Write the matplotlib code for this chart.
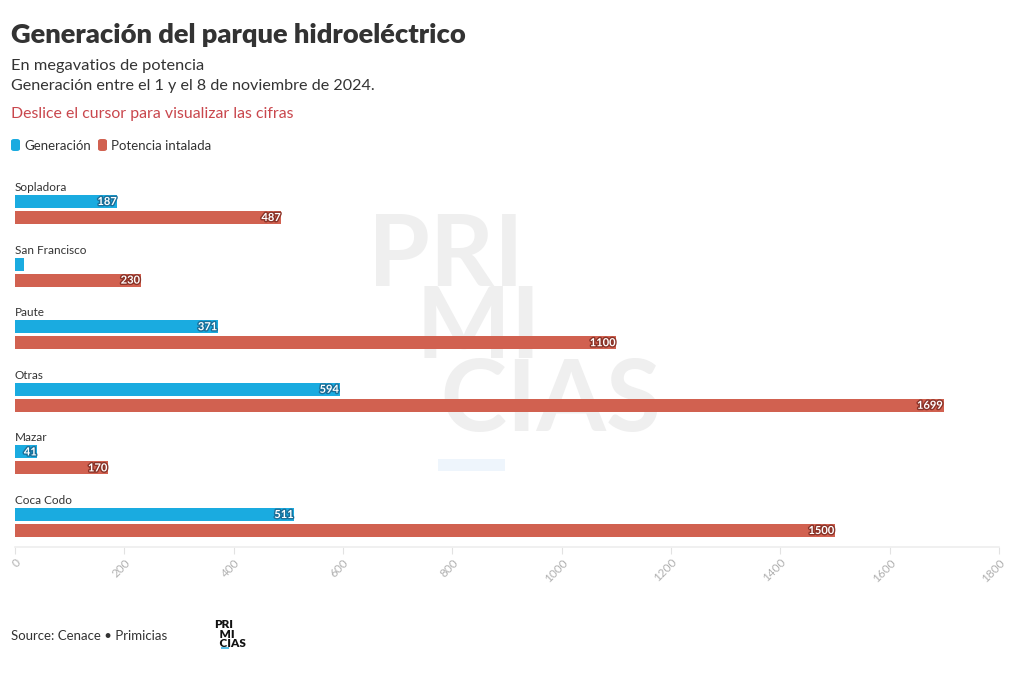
import matplotlib
matplotlib.use("Agg")
import matplotlib.pyplot as plt
import matplotlib.patheffects as pe
from matplotlib.patches import FancyBboxPatch, Rectangle
import numpy as np

categories = ["Sopladora", "San Francisco", "Paute", "Otras", "Mazar", "Coca Codo"]
generacion = [187, 17, 371, 594, 41, 511]
potencia = [487, 230, 1100, 1699, 170, 1500]
gen_labels = ["187", "", "371", "594", "41", "511"]
pot_labels = ["487", "230", "1100", "1699", "170", "1500"]
xticks = [0, 200, 400, 600, 800, 1000, 1200, 1400, 1600, 1800]

BLUE = "#1AABE0"
RED = "#D16150"
DARK = "#333333"

plt.rcParams['font.family'] = ['Lato', 'DejaVu Sans']

W, H = 1020, 683
fig = plt.figure(figsize=(W / 100, H / 100), dpi=100)

def fx(px):
    return px / W

def fy(py):
    return 1 - py / H

# Titles
fig.text(fx(11), fy(35), "Generación del parque hidroeléctrico", fontsize=19.6, fontweight='heavy',
         color=DARK, va='center', ha='left')
fig.text(fx(11), fy(66), "En megavatios de potencia", fontsize=11.8, color=DARK, va='center')
fig.text(fx(11), fy(86), "Generación entre el 1 y el 8 de noviembre de 2024.", fontsize=11.6,
         color=DARK, va='center')
fig.text(fx(11), fy(114), "Deslice el cursor para visualizar las cifras", fontsize=11.4,
         color="#C9474D", va='center')

# Legend
for lx, col, lab in [(11, BLUE, "Generación"), (98, RED, "Potencia intalada")]:
    fig.patches.append(FancyBboxPatch((fx(lx), fy(151)), fx(9), 12 / H,
                                      boxstyle="round,pad=0,rounding_size=0.003",
                                      transform=fig.transFigure, facecolor=col, edgecolor='none'))
    fig.text(fx(lx + 13), fy(146), lab, fontsize=9.5, color=DARK, va='center')

# Watermark (single multi-line text)
fig.text(fx(368), fy(212), "PRI\n  MI\n   CIAS", fontsize=72, fontweight='bold', color="#EFEFEF",
         va='top', ha='left', linespacing=0.75, zorder=-2)
fig.patches.append(Rectangle((fx(438), fy(471)), fx(67), 12 / H, transform=fig.transFigure,
                             facecolor="#EEF5FC", edgecolor='none', zorder=-2))

# Axes
top_px, bot_px = 172, 547
ax = fig.add_axes([fx(15), fy(bot_px), fx(999 - 15), (bot_px - top_px) / H])
ax.patch.set_alpha(0)
pitch = 62.6
ax.set_xlim(0, 1800)
ax.set_ylim((bot_px - 186) / pitch, (top_px - 186) / pitch)

idx = np.arange(len(categories))
bh = 13 / pitch
ob = 15.5 / pitch
orr = 31.5 / pitch
ax.barh(idx + ob, generacion, height=bh, color=BLUE, zorder=2)
ax.barh(idx + orr, potencia, height=bh, color=RED, zorder=2)

for i, cat in enumerate(categories):
    ax.text(0, i + 1.5 / pitch, cat, fontsize=8.5, color=DARK, va='center', ha='left')
    if gen_labels[i]:
        ax.text(generacion[i] - 1, i + ob, gen_labels[i], fontsize=8, fontweight='bold',
                color='white', va='center', ha='right', zorder=3,
                path_effects=[pe.withStroke(linewidth=2, foreground="#1A6F99")])
    ax.text(potencia[i] - 1, i + orr, pot_labels[i], fontsize=8, fontweight='bold',
            color='white', va='center', ha='right', zorder=3,
            path_effects=[pe.withStroke(linewidth=2, foreground="#8A3328")])

for s in ['top', 'right', 'left']:
    ax.spines[s].set_visible(False)
ax.spines['bottom'].set_color("#EEEEEE")
ax.spines['bottom'].set_linewidth(1.2)
ax.set_yticks([])
ax.set_xticks(xticks)
ax.set_xticklabels([str(t) for t in xticks], rotation=45, ha='right', va='top',
                   rotation_mode='anchor', fontsize=8.5, color="#B0B0B0")
ax.tick_params(axis='x', length=5, color="#E2E2E2", pad=2)

# Source
fig.text(fx(11), fy(636), "Source: Cenace • Primicias", fontsize=9.5, color=DARK, va='center')
fig.text(fx(214), fy(619), "PRI\n  MI\n  CIAS", fontsize=8.5, fontweight='heavy', color="#111111",
         va='top', ha='left', linespacing=0.85)
fig.add_artist(Rectangle((fx(221), fy(649)), fx(8), 2 / H, transform=fig.transFigure,
                         facecolor="#5BC0E8", edgecolor='none', zorder=5))

fig.savefig("out.png", dpi=100)
